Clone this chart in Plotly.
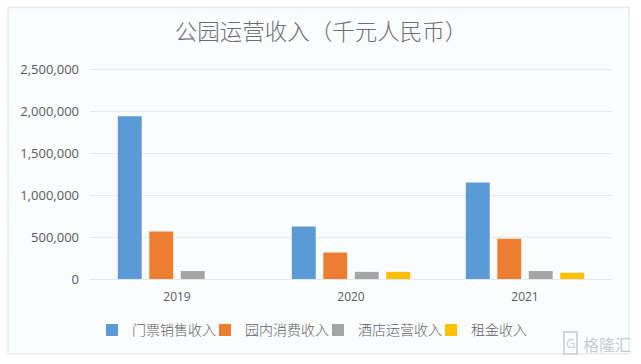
import plotly.graph_objects as go

years = ["2019", "2020", "2021"]
ticket = [1940000, 625000, 1150000]
park = [565000, 315000, 480000]
hotel = [95000, 85000, 95000]
rent = [None, 85000, 75000]
names = ["门票销售收入", "园内消费收入", "酒店运营收入", "租金收入"]
colors = ["#5B9BD5", "#ED7D31", "#A5A5A5", "#FFC000"]
title = "公园运营收入（千元人民币）"
watermark = "格隆汇"
CJK = "Noto Sans CJK SC"
H = 211.8

fig = go.Figure()
for name, vals, c in zip(names, [ticket, park, hotel, rent], colors):
    fig.add_bar(x=years, y=vals, name=name, marker=dict(color=c, line=dict(width=0)))

fig.update_layout(
    width=641, height=364,
    margin=dict(l=90, r=29, t=67.7, b=84.5),
    paper_bgcolor="#ffffff", plot_bgcolor="rgba(0,0,0,0)",
    barmode="group", bargap=0.276, bargroupgap=0.24,
    title=dict(text=title, x=321 / 641, xanchor="center", y=1 - 32 / 364, yanchor="middle",
               font=dict(family=CJK, size=22.5, color="#6e6e70", weight=300)),
    legend=dict(orientation="h", x=(318 - 90) / 522, xanchor="center", y=-51.5 / H, yanchor="middle",
                bgcolor="rgba(0,0,0,0)",
                font=dict(family=CJK, size=14, color="#5f5f62", weight=300),
                itemwidth=30, traceorder="normal", entrywidth=68, entrywidthmode="pixels"),
    showlegend=True,
    xaxis=dict(type="category", showline=True, linecolor="#e3e6ea", linewidth=1, ticks="",
               ticklabelstandoff=7,
               tickfont=dict(family="Open Sans", size=12, color="#5a5a5e"), showgrid=False),
    yaxis=dict(range=[0, 2515000], tickvals=[0, 500000, 1000000, 1500000, 2000000, 2500000],
               tickformat=",d", gridcolor="#e4e9ee", gridwidth=1, zeroline=False, ticks="",
               ticklabelstandoff=10,
               tickfont=dict(family="Open Sans", size=13, color="#5a5a5e")),
    shapes=[dict(type="rect", xref="paper", yref="paper", layer="below",
                 x0=-82 / 522, x1=539 / 522, y0=-75 / H, y1=1 + 60.7 / H,
                 fillcolor="#fbfcfe", line=dict(color="#e9ebee", width=1.5))],
    annotations=[
        dict(text=watermark, xref="paper", yref="paper", x=(607 - 90) / 522, y=-(345 - 279.5) / H,
             xanchor="center", yanchor="middle", showarrow=False,
             font=dict(family=CJK, size=16, color="#c9ccd0")),
        dict(text="G", xref="paper", yref="paper", x=(570 - 90) / 522, y=-(344 - 279.5) / H,
             xanchor="center", yanchor="middle", showarrow=False, bordercolor="#d3d6da", borderwidth=2,
             borderpad=1, font=dict(family="Open Sans", size=13, color="#c9ccd0")),
    ],
)
fig.write_html("out.html", config={"displayModeBar": False}, post_script="document.body.style.margin='0';")
